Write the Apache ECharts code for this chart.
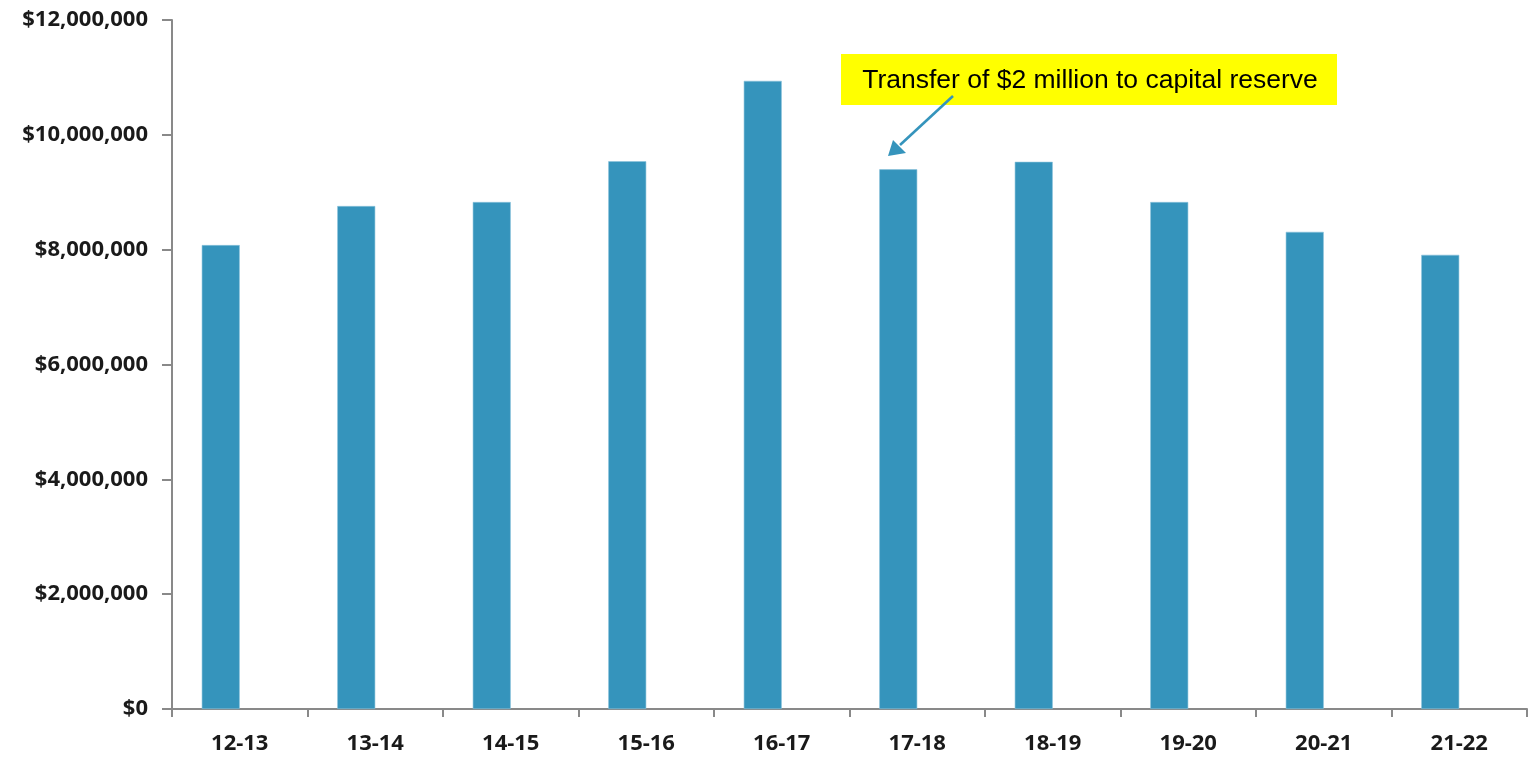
<!DOCTYPE html>
<html>
<head>
<meta charset="utf-8">
<script src="https://cdn.jsdelivr.net/npm/echarts@6/dist/echarts.min.js"></script>
<style>
  html, body { margin: 0; padding: 0; background: #fff; }
  #chart { width: 1529px; height: 757px; }
</style>
</head>
<body>
<div id="chart"></div>
<script>
// Fiscal years
const years = ['12-13', '13-14', '14-15', '15-16', '16-17', '17-18', '18-19', '19-20', '20-21', '21-22'];
// Year-end balance, dollars
const balances = [8080000, 8760000, 8830000, 9540000, 10940000, 9400000, 9530000, 8830000, 8310000, 7910000];
// Companion series slot (left empty, keeps the bars in their left half-slot)
const emptySlot = years.map(() => null);
// Value axis settings
const yMin = 0;
const yMax = 12000000;
const yStep = 2000000;
const noteText = 'Transfer of $2 million to capital reserve';

const chart = echarts.init(document.getElementById('chart'));

function money(v) {
  return '$' + v.toString().replace(/\B(?=(\d{3})+(?!\d))/g, ',');
}

const axisColor = '#898989';
const labelFont = { fontFamily: '"Open Sans", sans-serif', fontWeight: 'bold', fontSize: 22, color: '#1a1a1a' };

chart.setOption({
  animation: false,
  grid: { left: 172, right: 2, top: 20, bottom: 48 },
  xAxis: {
    type: 'category',
    data: years,
    boundaryGap: true,
    axisLine: { lineStyle: { color: axisColor, width: 2 } },
    axisTick: { show: true, length: 8, alignWithLabel: false, lineStyle: { color: axisColor, width: 2 } },
    axisLabel: Object.assign({ margin: 24 }, labelFont)
  },
  yAxis: {
    type: 'value',
    min: yMin,
    max: yMax,
    interval: yStep,
    splitLine: { show: false },
    axisLine: { show: true, lineStyle: { color: axisColor, width: 2 } },
    axisTick: { show: true, length: 10, lineStyle: { color: axisColor, width: 2 } },
    axisLabel: Object.assign({ margin: 24, formatter: money }, labelFont)
  },
  series: [
    {
      type: 'bar',
      data: balances,
      barWidth: 38,
      barGap: '0%',
      itemStyle: { color: '#3594bc', borderColor: '#8cc3dc', borderWidth: 0.6 }
    },
    {
      type: 'bar',
      data: emptySlot,
      barWidth: 38,
      barGap: '0%'
    }
  ],
  graphic: [
    {
      type: 'rect',
      shape: { x: 841, y: 54, width: 496, height: 51 },
      style: { fill: '#ffff00' },
      z: 10
    },
    {
      type: 'text',
      x: 1090, y: 81,
      style: {
        text: noteText,
        fill: '#000',
        font: '26.5px "Liberation Sans", Arial, sans-serif',
        textAlign: 'center',
        textVerticalAlign: 'middle'
      },
      z: 11
    },
    {
      type: 'line',
      shape: { x1: 953, y1: 96, x2: 900, y2: 145 },
      style: { stroke: '#3594bc', lineWidth: 2.6 },
      z: 12
    },
    {
      type: 'polygon',
      shape: { points: [[888, 156], [893, 140], [906, 153]] },
      style: { fill: '#3594bc' },
      z: 12
    }
  ]
});
</script>
</body>
</html>
